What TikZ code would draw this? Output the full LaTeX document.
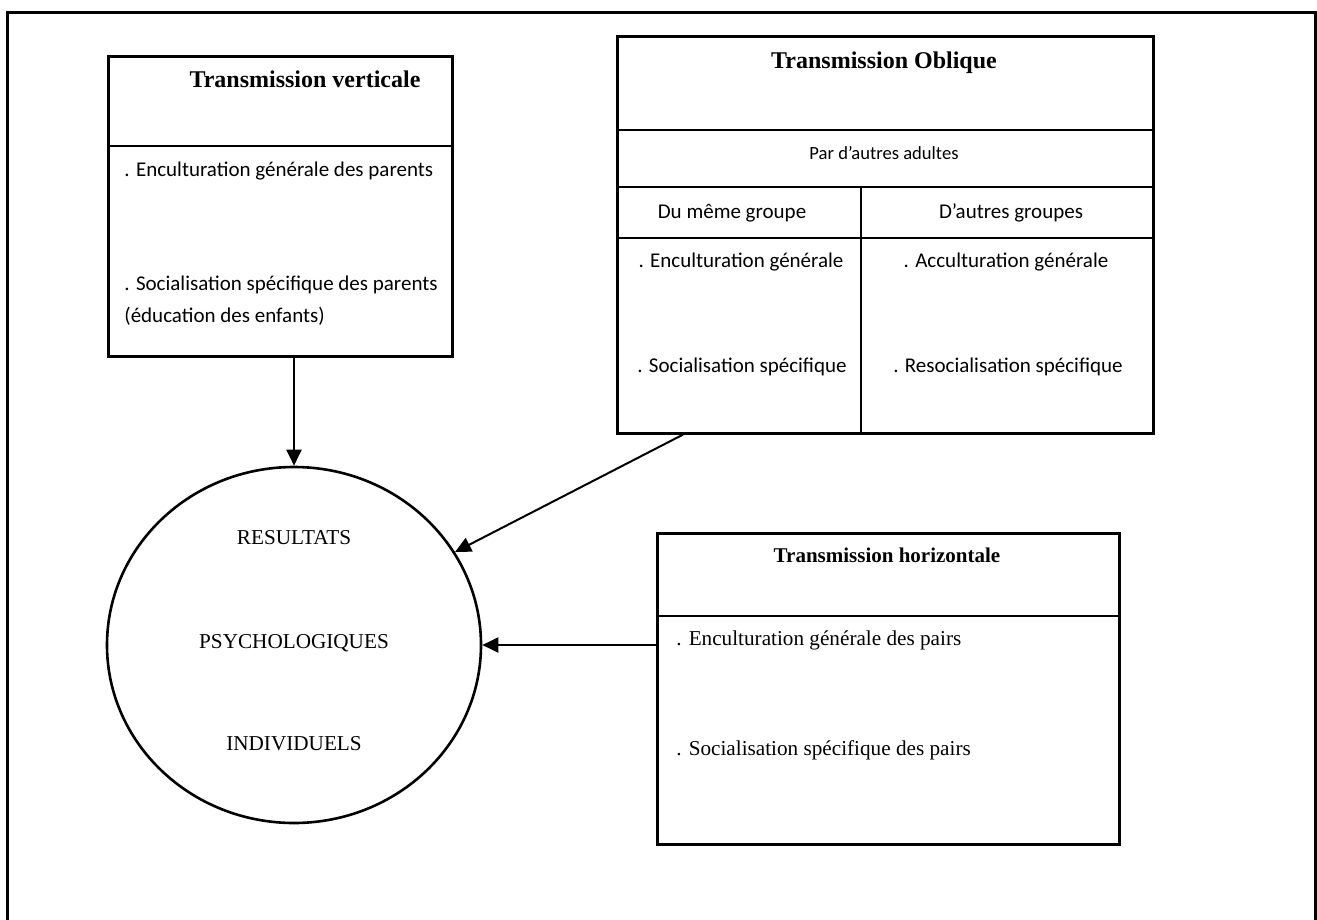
\documentclass[tikz,border=0pt]{standalone}
\usepackage{fontspec}
\setmainfont{Liberation Serif}
\newfontfamily\calfont{Carlito}
\usetikzlibrary{arrows.meta,shapes.geometric}
\begin{document}
\begin{tikzpicture}[x=0.5pt,y=-0.5pt,
  box/.style={draw,line width=1.3pt,rectangle,anchor=north west,inner sep=0pt},
  rule/.style={line width=1.3pt},
  link/.style={line width=1pt,-{Triangle[length=8pt,width=7.5pt]}},
  lbl/.style={inner sep=0pt,text height=1.6ex,text depth=.35ex},
  bigtitle/.style={lbl,font=\fontsize{12}{14}\selectfont\bfseries},
  smalltitle/.style={lbl,font=\fontsize{10.5}{12.5}\selectfont\bfseries},
  calbody/.style={lbl,font=\calfont\fontsize{10.5}{12.5}\selectfont},
  calsmall/.style={lbl,font=\calfont\fontsize{9.3}{11}\selectfont},
  serbody/.style={lbl,font=\fontsize{10.6}{12.5}\selectfont},
]
\useasboundingbox (0,0) rectangle (1317,920);

% page frame, running off the bottom
\draw[line width=1.5pt] (7,940) -- (7,13) -- (1315,13) -- (1315,940);

% --- vertical transmission ---
\node[box,minimum width=172pt,minimum height=150pt] (vbox) at (107,55) {};
\draw[rule] (107,146) -- (451,146);
\node[bigtitle] (vtitle) at (305,82) {Transmission verticale};
\node[calbody,anchor=west] (v1) at (124,171) {. Enculturation générale des parents};
\node[calbody,anchor=west] (v2) at (124,285) {. Socialisation spécifique des parents};
\node[calbody,anchor=west] (v3) at (124,317) {(éducation des enfants)};

% --- oblique transmission ---
\node[box,minimum width=268pt,minimum height=198.5pt] (obox) at (616,35) {};
\draw[rule] (616,130) -- (1152,130);
\draw[rule] (616,187) -- (1152,187);
\draw[rule] (616,238) -- (1152,238);
\draw[rule] (861,187) -- (861,432);
\node[bigtitle] (otitle) at (884,63) {Transmission Oblique};
\node[calsmall] (oadult) at (884,154) {Par d’autres adultes};
\node[calbody] (osame) at (732,213) {Du même groupe};
\node[calbody] (oother) at (1011,213) {D’autres groupes};
\node[calbody] (o1) at (741,262) {. Enculturation générale};
\node[calbody] (o2) at (742,367) {. Socialisation spécifique};
\node[calbody] (o3) at (1006,262) {. Acculturation générale};
\node[calbody] (o4) at (1008,367) {. Resocialisation spécifique};

% --- horizontal transmission ---
\node[box,minimum width=231pt,minimum height=155.5pt] (hbox) at (656,532) {};
\draw[rule] (656,616) -- (1118,616);
\node[smalltitle] (htitle) at (887,557) {Transmission horizontale};
\node[serbody,anchor=west] (h1) at (676,640) {. Enculturation générale des pairs};
\node[serbody,anchor=west] (h2) at (676,750) {. Socialisation spécifique des pairs};

% --- individual psychological outcomes ---
\node[draw,ellipse,line width=1.3pt,minimum width=187pt,minimum height=178pt,inner sep=0pt] (res) at (294,645) {};
\node[serbody] (r1) at (294,539) {RESULTATS};
\node[serbody] (r2) at (294,643) {PSYCHOLOGIQUES};
\node[serbody] (r3) at (294,745) {INDIVIDUELS};

% --- influences ---
\draw[link] (res.north |- vbox.south) -- (res.north);
\path (obox.south west) ++(67,0) coordinate (ostart);
\draw[link] (ostart) -- (res.30);
\draw[link] (hbox.west |- res.east) -- (res.east);
\end{tikzpicture}
\end{document}
